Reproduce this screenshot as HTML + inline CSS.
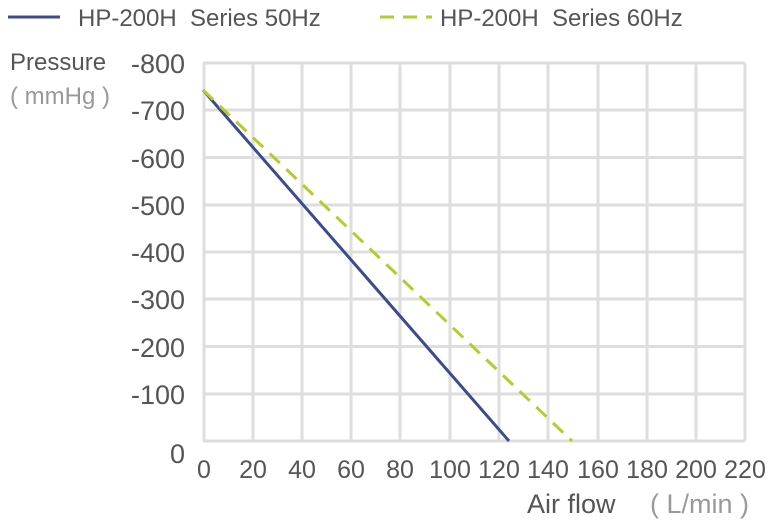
<!DOCTYPE html>
<html><head><meta charset="utf-8"><style>
body{margin:0;background:#fff;}
svg text{font-family:"Liberation Sans","DejaVu Sans",sans-serif;fill:#555;}
</style></head><body>
<svg width="771" height="520" viewBox="0 0 771 520" xmlns="http://www.w3.org/2000/svg">
<g stroke="#dedede" stroke-width="3" fill="none">
<line x1="203" y1="63" x2="745" y2="63"/>
<line x1="203" y1="110" x2="745" y2="110"/>
<line x1="203" y1="157.5" x2="745" y2="157.5"/>
<line x1="203" y1="205" x2="745" y2="205"/>
<line x1="203" y1="252" x2="745" y2="252"/>
<line x1="203" y1="299" x2="745" y2="299"/>
<line x1="203" y1="346.5" x2="745" y2="346.5"/>
<line x1="203" y1="394" x2="745" y2="394"/>
<line x1="203" y1="441" x2="745" y2="441"/>
<line x1="204" y1="63" x2="204" y2="441"/>
<line x1="253" y1="63" x2="253" y2="441"/>
<line x1="302" y1="63" x2="302" y2="441"/>
<line x1="351" y1="63" x2="351" y2="441"/>
<line x1="400" y1="63" x2="400" y2="441"/>
<line x1="450" y1="63" x2="450" y2="441"/>
<line x1="499" y1="63" x2="499" y2="441"/>
<line x1="548" y1="63" x2="548" y2="441"/>
<line x1="598" y1="63" x2="598" y2="441"/>
<line x1="647" y1="63" x2="647" y2="441"/>
<line x1="696" y1="63" x2="696" y2="441"/>
<line x1="745" y1="63" x2="745" y2="441"/>
</g>
<line x1="203" y1="90" x2="509" y2="441" stroke="#3d4a8c" stroke-width="3"/>
<line x1="203" y1="90" x2="572" y2="441" stroke="#b5cc2e" stroke-width="3" stroke-dasharray="14,9"/>
<line x1="8" y1="17" x2="60" y2="17" stroke="#3d4a8c" stroke-width="3"/>
<line x1="380" y1="17" x2="432" y2="17" stroke="#b5cc2e" stroke-width="3" stroke-dasharray="14,9"/>
<text x="78" y="26" font-size="24" xml:space="preserve">HP-200H  Series 50Hz</text>
<text x="440" y="26" font-size="24" xml:space="preserve">HP-200H  Series 60Hz</text>
<text x="10" y="70" font-size="24">Pressure</text>
<text x="10" y="104" font-size="24" style="fill:#999">( mmHg )</text>
<g font-size="27" text-anchor="end">
<text x="185" y="73">-800</text>
<text x="185" y="120">-700</text>
<text x="185" y="168">-600</text>
<text x="185" y="215">-500</text>
<text x="185" y="262">-400</text>
<text x="185" y="309">-300</text>
<text x="185" y="357">-200</text>
<text x="185" y="404">-100</text>
<text x="185" y="463">0</text>
</g>
<g font-size="25" text-anchor="middle">
<text x="204" y="478">0</text>
<text x="253" y="478">20</text>
<text x="302" y="478">40</text>
<text x="351" y="478">60</text>
<text x="400" y="478">80</text>
<text x="450" y="478">100</text>
<text x="499" y="478">120</text>
<text x="548" y="478">140</text>
<text x="598" y="478">160</text>
<text x="647" y="478">180</text>
<text x="696" y="478">200</text>
<text x="745" y="478">220</text>
</g>
<text x="527" y="513" font-size="27">Air flow</text>
<text x="650" y="513" font-size="27" style="fill:#999">( L/min )</text>
</svg>
</body></html>
